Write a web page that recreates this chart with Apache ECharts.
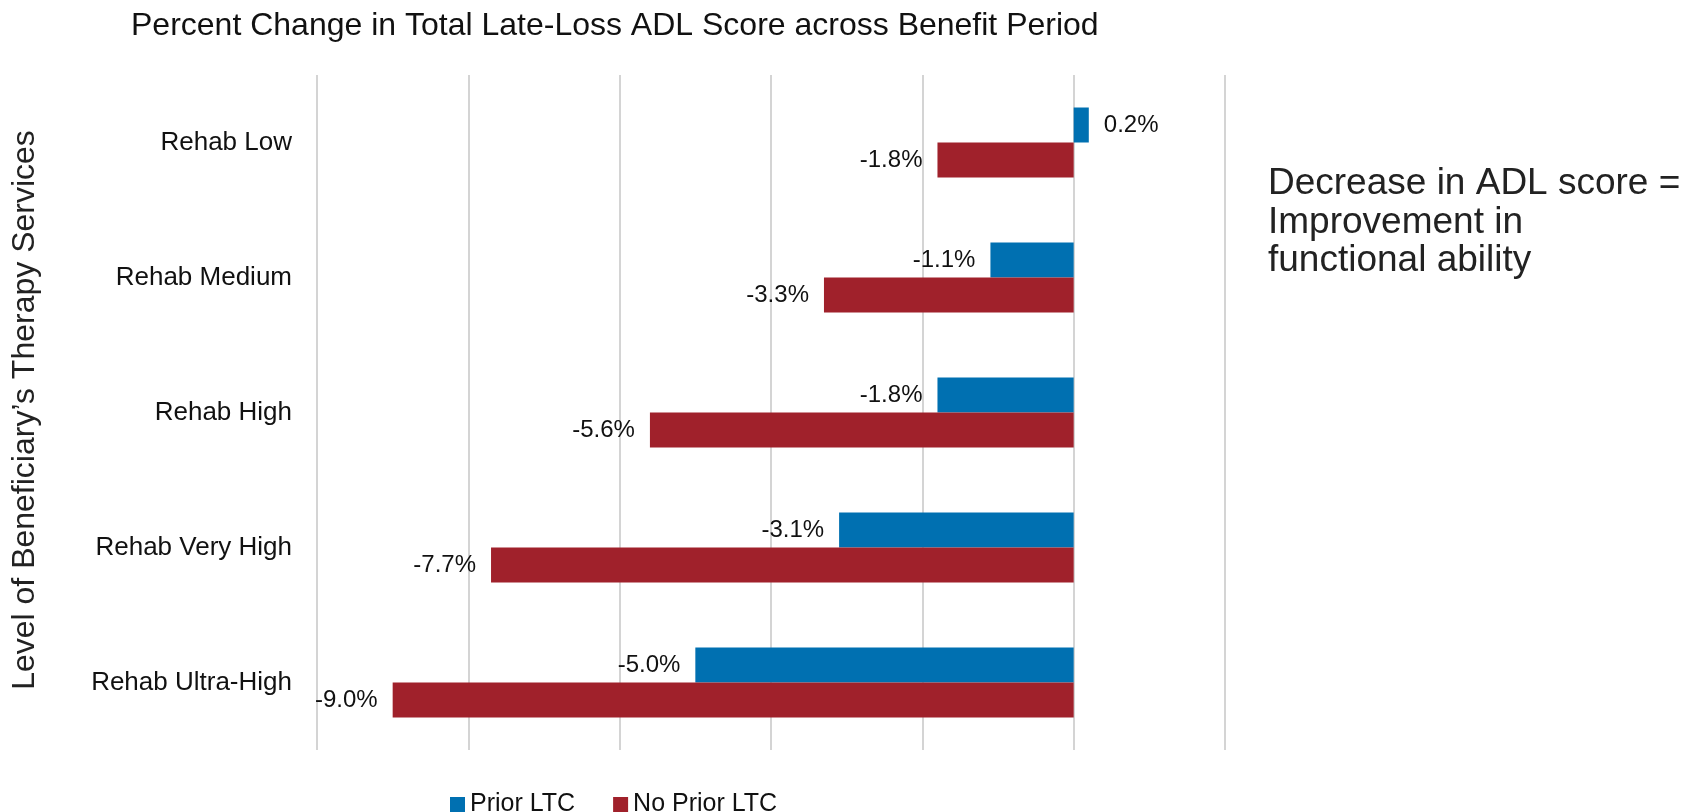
<!DOCTYPE html>
<html>
<head>
<meta charset="utf-8">
<script src="https://cdn.jsdelivr.net/npm/echarts@6/dist/echarts.min.js"></script>
<style>
  html, body { margin: 0; padding: 0; background: #fff; }
  #chart { width: 1694px; height: 812px; }
</style>
</head>
<body>
<div id="chart"></div>
<script>
const categories = ["Rehab Low", "Rehab Medium", "Rehab High", "Rehab Very High", "Rehab Ultra-High"];
const priorLTC = [0.2, -1.1, -1.8, -3.1, -5.0];
const noPriorLTC = [-1.8, -3.3, -5.6, -7.7, -9.0];
const seriesNames = ["Prior LTC", "No Prior LTC"];
const colors = ["#0070B1", "#A0212B"];

const font = "Liberation Sans, Arial, sans-serif";
const chart = echarts.init(document.getElementById("chart"));

function barData(values) {
  return values.map((v) => ({
    value: v,
    label: { position: v >= 0 ? "right" : "left" },
  }));
}

function barSeries(name, values, color) {
  return {
    name,
    type: "bar",
    barWidth: 35,
    barGap: "0%",
    itemStyle: { color },
    label: {
      show: true,
      distance: 15,
      fontSize: 24,
      fontFamily: font,
      color: "#111",
      formatter: (p) => p.value.toFixed(1) + "%",
    },
    data: barData(values),
  };
}

chart.setOption({
  animation: false,
  title: {
    text: "Percent Change in Total Late-Loss ADL Score across Benefit Period",
    left: 131,
    top: 8,
    padding: 0,
    textStyle: { fontSize: 32, fontWeight: "normal", fontFamily: font, color: "#111", lineHeight: 36 },
  },
  legend: {
    left: 445,
    top: 787,
    icon: "rect",
    itemWidth: 15,
    itemHeight: 15,
    itemGap: 38,
    textStyle: { fontSize: 25, fontFamily: font, color: "#111" },
    data: seriesNames,
  },
  grid: { left: 317, right: 469, top: 75, bottom: 62 },
  xAxis: {
    type: "value",
    min: -10,
    max: 2,
    interval: 2,
    axisLabel: { show: false },
    axisLine: { show: false },
    axisTick: { show: false },
    splitLine: { lineStyle: { color: "#d4d4d4", width: 2 } },
  },
  yAxis: {
    type: "category",
    inverse: true,
    data: categories,
    axisLine: { show: false },
    axisTick: { show: false },
    axisLabel: { margin: 25, fontSize: 26, fontFamily: font, color: "#111" },
  },
  graphic: [
    {
      type: "text",
      x: 25,
      y: 410,
      rotation: Math.PI / 2,
      style: {
        text: "Level of Beneficiary’s Therapy Services",
        fontSize: 32,
        fontFamily: font,
        fill: "#222",
        textAlign: "center",
        textVerticalAlign: "middle",
      },
    },
    {
      type: "text",
      x: 1268,
      y: 165,
      style: {
        text: "Decrease in ADL score =\nImprovement in\nfunctional ability",
        fontSize: 37,
        lineHeight: 38.5,
        fontFamily: font,
        fill: "#222",
        textAlign: "left",
        textVerticalAlign: "top",
      },
    },
  ],
  series: [
    barSeries(seriesNames[0], priorLTC, colors[0]),
    barSeries(seriesNames[1], noPriorLTC, colors[1]),
  ],
});
</script>
</body>
</html>
